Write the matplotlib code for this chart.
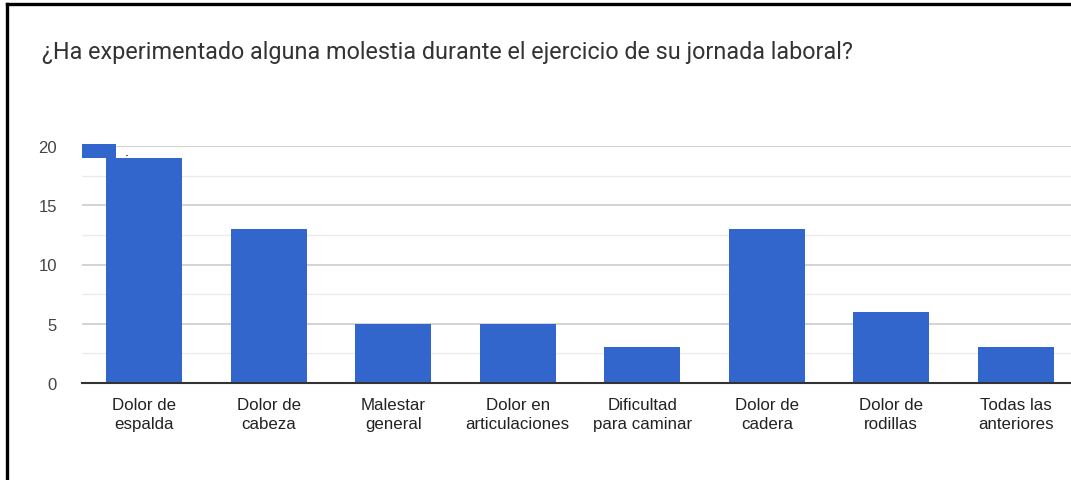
import matplotlib
matplotlib.use('Agg')
from matplotlib import pyplot as plt
from matplotlib.lines import Line2D
from matplotlib.patches import Patch

title = '¿Ha experimentado alguna molestia durante el ejercicio de su jornada laboral?'
categories = ['Dolor de\nespalda', 'Dolor de\ncabeza', 'Malestar\ngeneral', 'Dolor en\narticulaciones',
              'Dificultad\npara caminar', 'Dolor de\ncadera', 'Dolor de\nrodillas', 'Todas las\nanteriores']
values = [19, 13, 5, 5, 3, 13, 6, 3]
y_ticks = [0, 5, 10, 15, 20]
y_minor = [2.5, 7.5, 12.5, 17.5]

BAR_COLOR = '#3366cc'

fig = plt.figure(figsize=(10.71, 4.81), dpi=100)
ax = fig.add_axes([82 / 1071, 97 / 481, 996 / 1071, 237 / 481])

x = list(range(len(categories)))
ax.bar(x, values, width=0.61, color=BAR_COLOR, zorder=3)

ax.set_xlim(-0.5, len(categories) - 0.5)
ax.set_ylim(0, 20)
ax.set_yticks(y_ticks)
ax.set_yticks(y_minor, minor=True)
ax.set_yticklabels([str(t) for t in y_ticks], fontsize=12, color='#444444', family='Liberation Sans')
ax.set_xticks(x)
ax.set_xticklabels(categories, fontsize=12.2, color='#222222', family='Liberation Sans', linespacing=1.35)
ax.tick_params(axis='both', which='both', length=0)
ax.tick_params(axis='y', pad=18)
ax.tick_params(axis='x', pad=10)

ax.grid(axis='y', which='major', color='#cccccc', linewidth=1.2, zorder=0)
ax.grid(axis='y', which='minor', color='#ebebeb', linewidth=1.0, zorder=0)
for s in ['top', 'right', 'left']:
    ax.spines[s].set_visible(False)
ax.spines['bottom'].set_color('#333333')
ax.spines['bottom'].set_linewidth(1.5)
ax.spines['bottom'].set_zorder(4)

# legend with a single dot label, as in the screenshot
leg = ax.legend([Patch(facecolor=BAR_COLOR, edgecolor='none')], ['.'],
                loc='upper left', bbox_to_anchor=(0.0, 1.01), frameon=False,
                handlelength=2.7, handleheight=1.4, handletextpad=0.75,
                borderaxespad=0, borderpad=0, fontsize=9)
leg.set_zorder(5)

fig.text(42 / 1071, 1 - 53 / 481, title, fontsize=16.8, color='#333333',
         family='Roboto', va='center', ha='left')

# screenshot frame (top and left edges)
fig.add_artist(Line2D([7 / 1071, 1], [1 - 5 / 481, 1 - 5 / 481], color='black', linewidth=2.4,
                      transform=fig.transFigure))
fig.add_artist(Line2D([7 / 1071, 7 / 1071], [0, 1 - 5 / 481], color='black', linewidth=2.4,
                      transform=fig.transFigure))

fig.savefig('out.png', dpi=100)
